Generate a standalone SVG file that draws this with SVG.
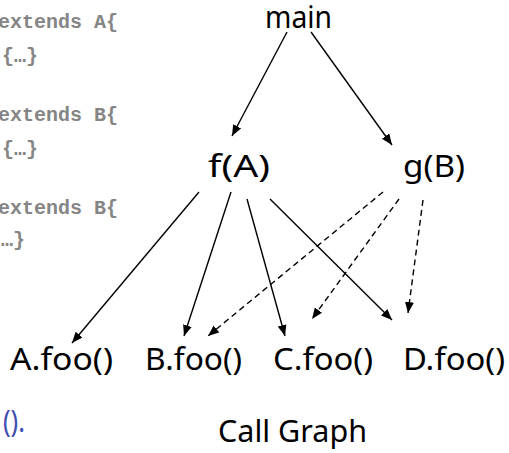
<svg xmlns="http://www.w3.org/2000/svg" width="509" height="453" viewBox="0 0 509 453">
<style>
.code{font-family:"Liberation Mono","Courier New",monospace;font-weight:bold;font-size:20px;fill:#858585}
.lbl{font-family:"Comic Sans MS","Noto Sans","DejaVu Sans",sans-serif;font-size:30px;fill:#000}
.blue{fill:#3f4db0}
.e{stroke:#000;stroke-width:1.4;fill:none;marker-end:url(#ah)}
.d{stroke-dasharray:6 4}
</style>
<defs>
<marker id="ah" markerUnits="userSpaceOnUse" markerWidth="12" markerHeight="10" refX="11" refY="4.5" orient="auto">
<path d="M0,0 L11,4.5 L0,9 z" fill="#000"/>
</marker>
</defs>
<rect width="509" height="453" fill="#fff"/>
<g id="code">
<text class="code" x="-2" y="28">extends A{</text>
<text class="code" x="2" y="62">{…}</text>
<text class="code" x="-2" y="121">extends B{</text>
<text class="code" x="2" y="155">{…}</text>
<text class="code" x="-2" y="214">extends B{</text>
<text class="code" x="1" y="246">…}</text>
<text class="lbl blue" x="3" y="432" textLength="22" lengthAdjust="spacingAndGlyphs">().</text>
</g>
<g id="edges">
<line class="e" x1="287" y1="32" x2="232" y2="136"/>
<line class="e" x1="311" y1="32" x2="392" y2="145"/>
<line class="e" x1="199" y1="192" x2="72" y2="343"/>
<line class="e" x1="231" y1="192" x2="184" y2="336"/>
<line class="e" x1="247" y1="199" x2="285" y2="336"/>
<line class="e" x1="270" y1="199" x2="392" y2="320"/>
<line class="e d" x1="383" y1="192" x2="208" y2="336"/>
<line class="e d" x1="399" y1="199" x2="312" y2="319"/>
<line class="e d" x1="423" y1="200" x2="408" y2="313"/>
</g>
<g id="main"><text class="lbl" x="265" y="28" textLength="67" lengthAdjust="spacingAndGlyphs">main</text></g>
<g id="fA"><text class="lbl" x="208" y="177" textLength="62" lengthAdjust="spacingAndGlyphs">f(A)</text></g>
<g id="gB"><text class="lbl" x="403" y="177" textLength="62" lengthAdjust="spacingAndGlyphs">g(B)</text></g>
<g id="Afoo"><text class="lbl" x="10" y="370" textLength="103" lengthAdjust="spacingAndGlyphs">A.foo()</text></g>
<g id="Bfoo"><text class="lbl" x="145" y="370" textLength="97" lengthAdjust="spacingAndGlyphs">B.foo()</text></g>
<g id="Cfoo"><text class="lbl" x="273" y="370" textLength="100" lengthAdjust="spacingAndGlyphs">C.foo()</text></g>
<g id="Dfoo"><text class="lbl" x="403" y="370" textLength="102" lengthAdjust="spacingAndGlyphs">D.foo()</text></g>
<g id="title"><text class="lbl" x="218" y="442" font-size="31" textLength="149" lengthAdjust="spacingAndGlyphs">Call Graph</text></g>
</svg>
